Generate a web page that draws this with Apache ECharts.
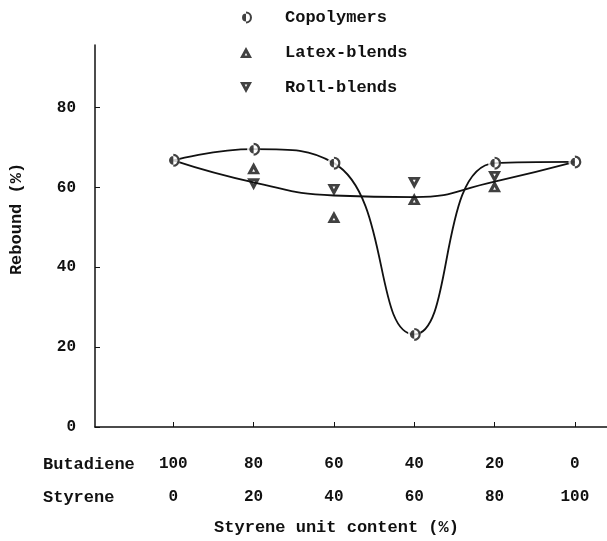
<!DOCTYPE html>
<html>
<head>
<meta charset="utf-8">
<script src="https://cdn.jsdelivr.net/npm/echarts@6/dist/echarts.min.js"></script>
<style>
  html, body { margin: 0; padding: 0; background: #fff; }
  #chart { width: 607px; height: 541px; }
</style>
</head>
<body>
<div id="chart"></div>
<script>
// styrene unit content (%), butadiene = 100 - styrene
const styrene = [0, 20, 40, 60, 80, 100]
const copolymers = [66.8, 69.6, 66.1, 23.2, 66.1, 66.4]
const blendStyrene = [20, 40, 60, 80]
const latexBlends = [64.8, 52.6, 57.1, 60.3]
const rollBlends = [60.8, 59.4, 61.1, 62.6]
// smooth curve drawn through the blends
const blendCurve = [66.8, 61.3, 58.0, 57.6, 61.5, 66.4]
const yTicks = [0, 20, 40, 60, 80]

const font = 'Liberation Mono'
const ink = '#111'

// circle outline with left half filled
const halfCircle = 'path://M0,10 A10,10 0 1,1 20,10 A10,10 0 1,1 0,10 Z' +
  ' M3.4,10 A6.6,6.6 0 1,0 16.6,10 A6.6,6.6 0 1,0 3.4,10 Z' +
  ' M10,0 A10,10 0 0,0 10,20 Z'
// heavy triangles with a small white core
const triUp = 'path://M10,0 L20,18 L0,18 Z M10,10 L7.8,14 L12.2,14 Z'
const triDown = 'path://M0,0 L20,0 L10,18 Z M7.8,4 L10,8 L12.2,4 Z'

const pair = (xs, ys) => xs.map((x, i) => [x, ys[i]])

const chart = echarts.init(document.getElementById('chart'))
chart.setOption({
  animation: false,
  backgroundColor: '#fff',
  legend: {
    orient: 'vertical',
    left: 235,
    top: 4,
    itemWidth: 12,
    itemHeight: 12,
    itemGap: 18,
    data: ['Copolymers', 'Latex-blends', 'Roll-blends'],
    textStyle: { fontFamily: font, fontSize: 17, fontWeight: 'bold', color: ink, padding: [0, 0, 0, 28] },
  },
  grid: { left: 91, right: 0, top: 45, bottom: 112 },
  xAxis: {
    type: 'value',
    min: -19.5,
    max: 108,
    name: 'Styrene unit content (%)',
    nameLocation: 'middle',
    nameGap: 92,
    nameTextStyle: { fontFamily: font, fontSize: 17, fontWeight: 'bold', color: ink, padding: [0, 29, 0, 0] },
    axisLine: { onZero: false, lineStyle: { color: ink, width: 1.5 } },
    axisTick: { inside: true, length: 5, customValues: styrene, lineStyle: { color: ink } },
    splitLine: { show: false },
    axisLabel: {
      customValues: styrene,
      margin: 20,
      formatter: v => '{a|' + (100 - v) + '}\n{a|' + v + '}',
      rich: { a: { fontFamily: font, fontSize: 16, fontWeight: 'bold', color: ink, lineHeight: 33 } },
    },
  },
  yAxis: {
    type: 'value',
    min: 0,
    max: 95.7,
    name: 'Rebound (%)',
    nameLocation: 'middle',
    nameGap: 70,
    nameTextStyle: { fontFamily: font, fontSize: 17, fontWeight: 'bold', color: ink, padding: [0, 0, 0, 34] },
    axisLine: { show: true, onZero: false, lineStyle: { color: ink, width: 1.5 } },
    axisTick: { show: true, inside: true, length: 5, customValues: yTicks, lineStyle: { color: ink } },
    splitLine: { show: false },
    axisLabel: {
      customValues: yTicks,
      margin: 19,
      fontFamily: font, fontSize: 16, fontWeight: 'bold', color: ink,
    },
  },
  graphic: [
    { type: 'text', left: 43, top: 456, style: { text: 'Butadiene', font: 'bold 17px "Liberation Mono"', fill: ink } },
    { type: 'text', left: 43, top: 489, style: { text: 'Styrene', font: 'bold 17px "Liberation Mono"', fill: ink } },
  ],
  series: [
    {
      type: 'line', data: pair(styrene, copolymers), smooth: 0.5, showSymbol: false, silent: true,
      lineStyle: { color: ink, width: 1.8 }, z: 1,
    },
    {
      type: 'line', data: pair(styrene, blendCurve), smooth: 0.5, showSymbol: false, silent: true,
      lineStyle: { color: ink, width: 1.8 }, z: 1,
    },
    {
      type: 'scatter', data: pair(styrene, copolymers), symbol: 'circle', symbolSize: 13, silent: true,
      itemStyle: { color: '#fff' }, z: 2,
    },
    {
      name: 'Copolymers', type: 'scatter', data: pair(styrene, copolymers), symbol: halfCircle, symbolSize: 13,
      itemStyle: { color: ink }, z: 3,
    },
    {
      name: 'Latex-blends', type: 'scatter', data: pair(blendStyrene, latexBlends), symbol: triUp, symbolSize: [13, 12],
      itemStyle: { color: ink }, z: 3,
    },
    {
      name: 'Roll-blends', type: 'scatter', data: pair(blendStyrene, rollBlends), symbol: triDown, symbolSize: [13, 12],
      itemStyle: { color: ink }, z: 3,
    },
  ],
})
</script>
</body>
</html>
